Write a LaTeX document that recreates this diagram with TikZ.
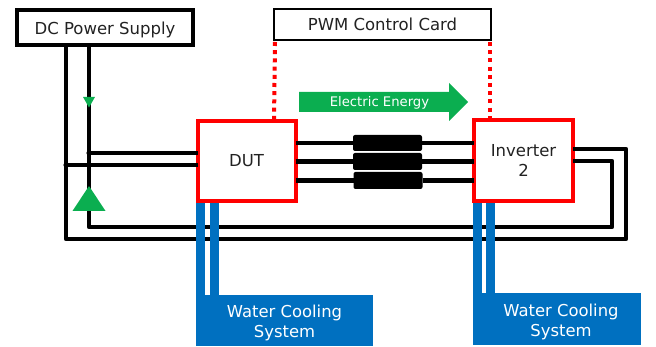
\documentclass[tikz,border=0pt]{standalone}
\usepackage{fontspec}
\setmainfont{DejaVu Sans}
\usetikzlibrary{calc}
\definecolor{cblue}{HTML}{0070C0}
\definecolor{cgreen}{HTML}{0BAE50}
\definecolor{tgray}{HTML}{222222}
\tikzset{
  blackbox/.style={draw=black,line width=4pt,fill=white,inner sep=0pt,outer sep=0pt,text=tgray,font=\fontsize{16.5}{18}\selectfont,align=center},
  redbox/.style={draw=red,line width=4pt,fill=white,inner sep=0pt,outer sep=0pt,text=tgray,font=\fontsize{16.5}{20}\selectfont,align=center},
  coolbox/.style={fill=cblue,inner sep=0pt,outer sep=0pt,text=white,font=\fontsize{16.4}{20}\selectfont,align=center},
  choke/.style={fill=black,rounded corners=2pt,inner sep=0pt,outer sep=0pt},
  wire/.style={draw=black,line width=4.3pt,line join=round},
  pipe/.style={draw=cblue,line width=8.6pt},
  ctrl/.style={draw=red,line width=4pt,dash pattern=on 4pt off 4.2pt},
  energy/.style={fill=cgreen}
}
\begin{document}
\begin{tikzpicture}[x=1pt,y=-1pt]
\useasboundingbox (0,0) rectangle (656,347);
% boxes
\node[blackbox,minimum width=176pt,minimum height=35pt] (dc) at (105,27.5) {\rule{0pt}{17pt}DC Power Supply};
\node[blackbox,line width=2.8pt,minimum width=217pt,minimum height=31pt] (pwm) at (382.5,24.5) {PWM Control Card};
\node[redbox,minimum width=98pt,minimum height=80pt] (dut) at (246.5,161) {DUT};
\node[redbox,minimum width=99pt,minimum height=81pt] (inv) at (523.5,160.5) {Inverter\\2};
\node[coolbox,minimum width=177pt,minimum height=51pt] (coolA) at (284.5,320.5) {\rule{0pt}{18pt}Water Cooling\\System};
\node[coolbox,minimum width=168pt,minimum height=52pt] (coolB) at (557,319) {\rule{0pt}{18pt}\hspace*{8pt}Water Cooling\\\hspace*{8pt}System};
\node[choke,minimum width=69pt,minimum height=16pt] (l1) at (387.5,143) {};
\node[choke,minimum width=69pt,minimum height=17pt] (l2) at (387.5,161.5) {};
\node[choke,minimum width=69pt,minimum height=17pt] (l3) at (388,180.5) {};
% junctions
\coordinate (ja) at (66,165);
\coordinate (jb) at (89,153);
\coordinate (ca) at (66,239);
\coordinate (cb) at (89,227);
\coordinate (cc) at (626,239);
\coordinate (cd) at (612,227);
% supply wiring
\draw[wire] (dc.south -| ja) -- (ca) -- (cc) -- (cc |- 0,149) -- (inv.east |- 0,149);
\draw[wire] (dc.south -| jb) -- (cb) -- (cd) -- (cd |- 0,161) -- (inv.east |- 0,161);
\draw[wire] (jb) -- (dut.west |- jb);
\draw[wire] (ja) -- (dut.west |- ja);
\fill[black] (jb) circle (2.6pt) (ja) circle (2.6pt);
% phases
\draw[wire] (dut.east |- l1) -- (l1);
\draw[wire] (l1) -- (inv.west |- l1);
\draw[wire] (dut.east |- l2) -- (l2);
\draw[wire] (l2) -- (inv.west |- l2);
\draw[wire] (dut.east |- l3) -- (l3);
\draw[wire] (l3) -- (inv.west |- l3);
% cooling
\draw[pipe] (200.5,203) -- (200.5 ,296);
\draw[pipe] (214.5,203) -- (214.5,296);
\draw[pipe] (477.5,203) -- (477.5,294);
\draw[pipe] (490.5,203) -- (490.5,294);
% control
\draw[ctrl] (pwm.south west) ++(1,2) -- (pwm.south west |- dut.north);
\draw[ctrl] (pwm.south east) ++(-1,2) -- ($(pwm.south east |- inv.north)+(-1,0)$);
% energy arrows
\fill[energy] (299,92) -- (449,92) -- (449,83) -- (468,102) -- (449,121) -- (449,112) -- (299,112) -- cycle;
\node[text=white,font=\fontsize{13.2}{15}\selectfont,inner sep=0pt] (ee) at (379.5,102.5) {Electric Energy};
\fill[energy] (83,97) -- (95,97) -- (89,107.5) -- cycle;
\fill[energy] (89,186) -- (105.5,211) -- (72.5,211) -- cycle;
\end{tikzpicture}
\end{document}
